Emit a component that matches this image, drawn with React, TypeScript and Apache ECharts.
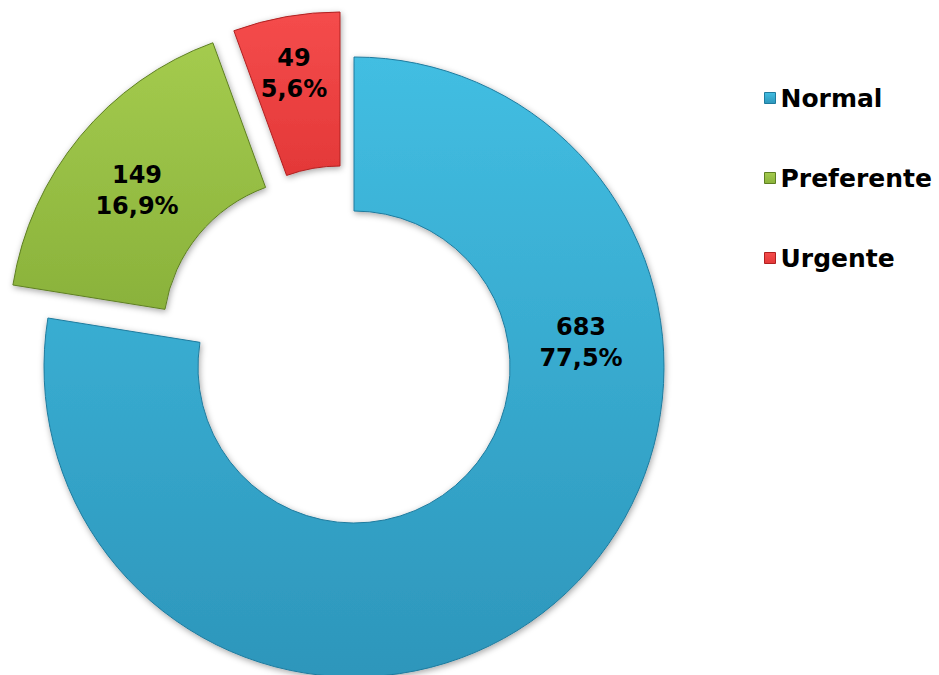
import React, { useEffect, useRef } from "react";
import * as echarts from "echarts";

const categories = ["Normal", "Preferente", "Urgente"];
const values = [683, 149, 49];

const colorTop = ["#42BEE2", "#A4CB4E", "#F54C4C"];
const colorBottom = ["#2D96BB", "#8AB23B", "#E33838"];
const borderColors = ["#1F7B9E", "#5E7F22", "#B02020"];
// explosion offset of each slice (pixels) from the common centre
const sliceShift: [number, number][] = [
  [0, 0],
  [-35, -33],
  [-14, -45],
];
// label block centres (pixels)
const labelPos: [number, number][] = [
  [581, 342],
  [137, 190],
  [294, 73],
];

export default function App() {
  const ref = useRef<HTMLDivElement>(null);
  useEffect(() => {
    if (!ref.current) return;
    const chart = echarts.init(ref.current, null, { renderer: "svg" });
    const cx = 354;
    const cy = 367;
    const styleOf = (i: number) => ({
      color: new echarts.graphic.LinearGradient(0, 0, 0, 1, [
        { offset: 0, color: colorTop[i] },
        { offset: 1, color: colorBottom[i] },
      ]),
      borderColor: borderColors[i],
      borderWidth: 1,
      shadowBlur: 6,
      shadowColor: "rgba(0,0,0,0.35)",
      shadowOffsetX: 1,
      shadowOffsetY: 2,
    });
    const series = categories.map((_, s) => ({
      type: "pie",
      center: [cx + sliceShift[s][0], cy + sliceShift[s][1]],
      radius: [156, 310],
      startAngle: 90,
      clockwise: true,
      percentPrecision: 1,
      avoidLabelOverlap: false,
      silent: true,
      emphasis: { disabled: true },
      labelLine: { show: false },
      labelLayout: (p: any) => {
        const pos = labelPos[p.dataIndex];
        return { x: pos[0], y: pos[1] };
      },
      data: categories.map((name, i) => ({
        name,
        value: values[i],
        itemStyle:
          i === s
            ? styleOf(i)
            : { color: "rgba(0,0,0,0)", borderWidth: 0, shadowBlur: 0 },
        label: {
          show: i === s,
          position: "inside",
          fontFamily: "DejaVu Sans",
          fontWeight: "bold",
          fontSize: 24,
          lineHeight: 31,
          color: "#000000",
          formatter: (p: any) =>
            `${p.value}\n${p.percent.toFixed(1).replace(".", ",")}%`,
        },
      })),
    }));
    chart.setOption({
      animation: false,
      backgroundColor: "#ffffff",
      legend: {
        orient: "vertical",
        left: 759,
        top: 78,
        itemWidth: 11,
        itemHeight: 11,
        itemGap: 50,
        icon: "rect",
        selectedMode: false,
        data: categories.map((name, i) => ({
          name,
          itemStyle: {
            color: new echarts.graphic.LinearGradient(0, 0, 0, 1, [
              { offset: 0, color: colorTop[i] },
              { offset: 1, color: colorBottom[i] },
            ]),
            borderColor: borderColors[i],
            borderWidth: 1,
          },
        })),
        textStyle: {
          fontFamily: "DejaVu Sans",
          fontWeight: "bold",
          fontSize: 25,
          lineHeight: 30,
          color: "#000000",
        },
      },
      series,
    });
    return () => chart.dispose();
  }, []);
  return (
    <div
      ref={ref}
      style={{ position: "absolute", left: 0, top: 0, width: 939, height: 675 }}
    />
  );
}
